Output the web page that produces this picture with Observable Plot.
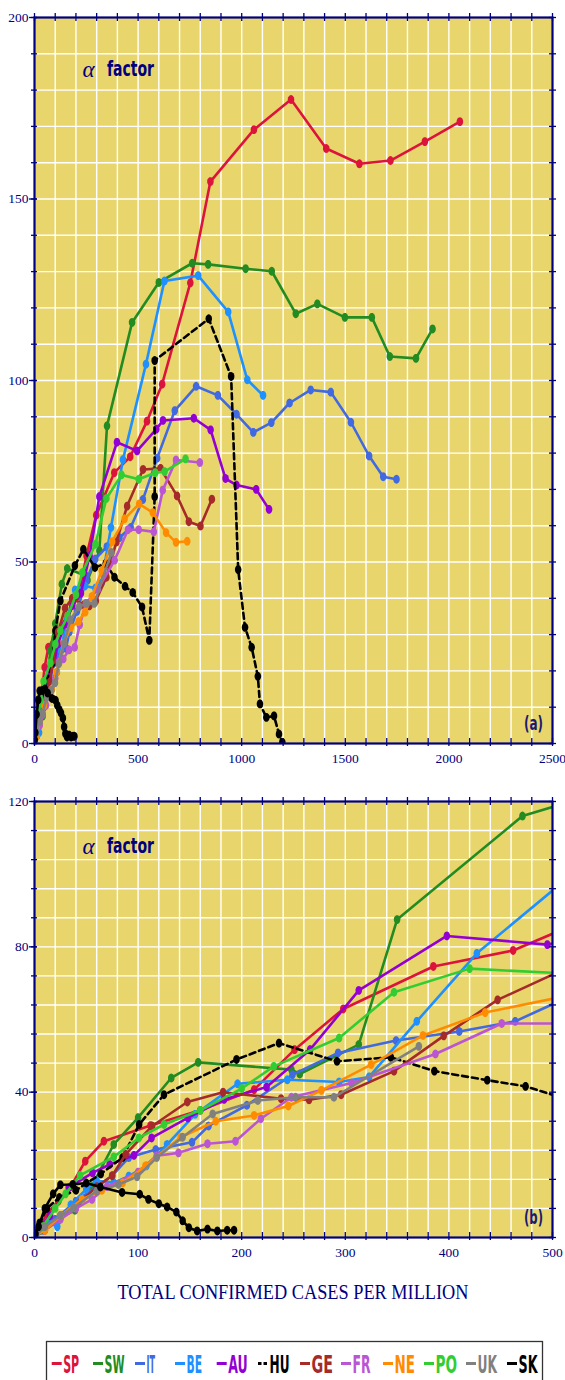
<!DOCTYPE html>
<html><head><meta charset="utf-8">
<script src="https://cdn.jsdelivr.net/npm/d3@7"></script>
<script src="https://cdn.jsdelivr.net/npm/@observablehq/plot@0.6"></script>
<style>
html,body{margin:0;padding:0;background:#fff;}
#wrap{width:565px;}
svg{display:block;}
</style></head><body>
<div id="wrap"><div id="top"></div><div id="bottom"></div><div id="foot"></div></div>
<script>
// ---- data (x: total confirmed cases per million, y: alpha factor) ----
const countries = ["SP","SW","IT","BE","AU","HU","GE","FR","NE","PO","UK","SK"];
const colors = ["#dc143c","#228b22","#4169e1","#1e90ff","#9400d3","#000000","#a52a2a","#ba55d3","#ff8c00","#32cd32","#808080","#000000"];

const SP = [[1,1],[5,3],[12,6.5],[23,10],[35,14],[49,21],[67,26.5],[112,30.8],[160,35],[212,40.7],[251,51.7],[298,62.9],[385,74.6],[462,79],[543,88.8],[616,99],[752,126.9],[849,154.8],[1059,169.1],[1238,177.4],[1408,163.9],[1568,159.7],[1718,160.6],[1884,165.8],[2053,171.3]];
const SW = [[1,0.5],[6,2],[15,4],[25,5.5],[39,7.5],[55,14],[76.5,25.6],[100,33],[132,43.9],[158,48.2],[248,46.2],[256,45],[313,53.1],[350,87.5],[471,116],[600,127],[761,132.3],[838,132],[1019,130.8],[1145,130.1],[1261,118.4],[1365,121.1],[1498,117.4],[1628,117.4],[1715,106.6],[1841,106.1],[1921,114.2]];
const IT = [[1,0.5],[8,2],[20,5],[40,10],[60,14],[75,17],[91,22],[117,24.2],[152,26.2],[168,30.7],[205,36.4],[249,44.8],[293,50.8],[349,54.2],[410,56.7],[464,59.5],[523,67.2],[592,78.6],[677,91.7],[780,98.4],[885,95.9],[975,90.7],[1056,85.7],[1143,88.4],[1231,93.8],[1333,97.4],[1430,96.8],[1527,88.5],[1615,79.2],[1683,73.5],[1747,72.8]];
const BE = [[2,1],[6,2.5],[15,4],[22,3],[35,9],[50,13.3],[60,15.6],[76.5,15.1],[91,16.9],[108,19.7],[128,25.6],[155,33.9],[196,42.3],[244,43.4],[294,42.8],[323,44.2],[369,59.5],[427,78.2],[538,104.5],[627,127.4],[790,128.9],[935,118.9],[1027,100.2],[1103,95.9]];
const AU = [[1,0.5],[3,2],[15,6],[33,13.7],[56,17.8],[72.6,20.1],[96,22.6],[113,27.4],[148,32.9],[183,38],[224,41.4],[266,51.7],[313,68],[398,83],[495,80.6],[588,86.6],[620,89],[769,89.6],[850,86.4],[922,73],[975,71.2],[1070,70],[1132,64.5]];
const HU = [[1,1],[5,4],[12,8],[24,11],[40,13],[64,17.5],[85,22],[101,31.1],[125,39.3],[195,49],[236,53.5],[292,48.5],[344,49.6],[386,45.8],[437,43.3],[474,41.6],[519,37.6],[554,28.4],[580,68],[580,105.5],[841,117],[949,101.1],[983,47.9],[1016,32],[1048,26.5],[1078,18.5],[1088,10.9],[1119,7.2],[1156,7.6],[1180,2.6],[1196,0.3]];
const GE = [[1,0.5],[10,2],[25,6],[45,10],[60,14],[75,17],[88,22.9],[113.6,30.7],[147.5,37.3],[182,40],[238,38.2],[265,37.9],[296,39.3],[347,45.8],[395,55.5],[447,65.4],[524,75.5],[608,75.8],[688,68.2],[745,61.1],[801,59.9],[856,67.3]];
const FR = [[1,0.5],[10,2],[25,5],[40,8],[55.5,10.5],[70,14],[100,18],[118,22.5],[139,23.3],[167,25.8],[194,26.5],[218.5,32.7],[248,38.6],[306,42.5],[387,50.5],[451,58.9],[503,58.9],[576,58.3],[619,69.8],[683,78.1],[798,77.4]];
const NE = [[1,0.5],[10,2],[25,6],[45.8,10.5],[65,13],[85,15],[107,19.7],[141,27.6],[175,32],[212,33.6],[245,36.2],[277,40.5],[325,47.6],[375,55.6],[435,61.9],[505,66],[571,63.6],[635,58.1],[683,55.4],[737,55.7]];
const PO = [[1,0.5],[8,3],[20,8],[30,12],[44,17.1],[76.5,22.2],[100.7,27.4],[125,31.1],[160,35],[200,41],[231,47.1],[294,54.9],[347,67.5],[420,74],[503,72.8],[583,74.6],[628,74.9],[729,78.4]];
const UK = [[1,0.5],[10,3],[25,6],[37.8,8.2],[60,12.8],[81,14.6],[99,16.7],[118,22],[143,27.6],[172,34],[215.5,37.7],[252,38.6],[289,38.6],[371,52.6]];
const SK = [[1,1],[4,3],[10,8],[18,12],[25,14.5],[37,14.6],[50,15],[63.6,13.9],[84.5,12.4],[101.6,11.9],[110,10.5],[120,9.3],[128,8.4],[137,7],[143,4.6],[149,2.7],[157,1.8],[167,2.3],[176.5,1.8],[186,2],[192.6,2]];

const xLabelsA = [0,500,1000,1500,2000,2500];
const yLabelsA = [0,50,100,150,200];
const xLabelsB = [0,100,200,300,400,500];
const yLabelsB = [0,40,80,120];
const legendLabels = countries;

// ---- build ----
const seriesList = [SP,SW,IT,BE,AU,HU,GE,FR,NE,PO,UK,SK];
const rows = countries.flatMap((c,i)=>seriesList[i].map(([x,y])=>({c,x,y})));

const NAVY = "#000080";
const BG = "#e8d66c";
const ellipse = {draw(ctx,size){const r=Math.sqrt(size/Math.PI);const rx=r*0.88,ry=r*1.2;for(let i=0;i<24;i++){const a=i/24*2*Math.PI;const x=rx*Math.cos(a),y=ry*Math.sin(a);if(i)ctx.lineTo(x,y);else ctx.moveTo(x,y);}ctx.closePath();}};

function panel({xMax,yMax,xStep,yStep,xLabels,yLabels,height,marginTop,tag,labelDy}){
  const marginLeft=34, marginRight=13, marginBottom=27;
  const W=565-marginLeft-marginRight, H=height-marginTop-marginBottom;
  const xGrid=d3.range(xStep,xMax,xStep), yGrid=d3.range(yStep,yMax,yStep);
  const xT=d3.range(0,xMax+1e-9,xStep), yT=d3.range(0,yMax+1e-9,yStep);
  const marks=[
    Plot.frame({fill:BG,stroke:null}),
    Plot.ruleX(xGrid,{stroke:"#ffffff",strokeWidth:1.4}),
    Plot.ruleY(yGrid,{stroke:"#ffffff",strokeWidth:1.4}),
  ];
  countries.forEach((c,i)=>{
    const d=rows.filter(r=>r.c===c);
    marks.push(Plot.line(d,{x:"x",y:"y",stroke:colors[i],strokeWidth:2.6,strokeDasharray:c==="HU"?"6,4":null,clip:true}));
    marks.push(Plot.dot(d,{x:"x",y:"y",fill:colors[i],r:3.7,symbol:ellipse,clip:true}));
  });
  marks.push(
    Plot.frame({stroke:NAVY,strokeWidth:2.2}),
    Plot.ruleY(yT,{stroke:NAVY,strokeWidth:1.3,insetLeft:-3,insetRight:W-3}),
    Plot.ruleY(yLabels,{stroke:NAVY,strokeWidth:1.3,insetLeft:-5,insetRight:W-3}),
    Plot.ruleY(yT,{stroke:NAVY,strokeWidth:1.3,insetLeft:W-3,insetRight:-4}),
    Plot.ruleX(xT,{stroke:NAVY,strokeWidth:1.3,insetTop:-4,insetBottom:H-4}),
    Plot.ruleX(xT,{stroke:NAVY,strokeWidth:1.3,insetTop:H-5,insetBottom:-3}),
    Plot.text(["α"],{frameAnchor:"top-left",dx:48,dy:labelDy+1,textAnchor:"start",lineAnchor:"middle",fill:NAVY,fontSize:23,fontStyle:"italic",fontFamily:"Liberation Serif"}),
    Plot.text(["factor"],{frameAnchor:"top-left",dx:72.5,dy:labelDy,textAnchor:"start",lineAnchor:"middle",fill:NAVY,fontSize:22,fontWeight:"bold",fontFamily:"DejaVu Sans"}),
    Plot.text([tag],{frameAnchor:"bottom-right",dx:-9.5,dy:-20,textAnchor:"end",lineAnchor:"middle",fill:"#1a1a70",fontSize:20,fontWeight:"bold",fontFamily:"DejaVu Sans"})
  );
  const svg=Plot.plot({
    width:565,height,marginLeft,marginRight,marginTop,marginBottom,
    style:{fontFamily:"Liberation Serif",fontSize:"13.5px",color:NAVY,background:"#fff"},
    x:{domain:[0,xMax],ticks:xLabels,tickSize:0,tickPadding:10,label:null,tickFormat:d=>String(d)},
    y:{domain:[0,yMax],ticks:yLabels,tickSize:0,tickPadding:6,label:null,tickFormat:d=>String(d)},
    marks
  });
  d3.select(svg).selectAll("text").each(function(){
    const t=this.textContent;
    if(t==="factor") d3.select(this).attr("textLength",47).attr("lengthAdjust","spacingAndGlyphs");
    if(t===tag) d3.select(this).attr("textLength",19).attr("lengthAdjust","spacingAndGlyphs");
  });
  return svg;
}

document.getElementById("top").appendChild(panel({xMax:2500,yMax:200,xStep:100,yStep:10,xLabels:xLabelsA,yLabels:yLabelsA,height:770,marginTop:17,tag:"(a)",labelDy:51}));
document.getElementById("bottom").appendChild(panel({xMax:500,yMax:120,xStep:20,yStep:8,xLabels:xLabelsB,yLabels:yLabelsB,height:494,marginTop:31,tag:"(b)",labelDy:44}));

// ---- footer: axis title + legend ----
const legendX=[51.7,93,135,175,216.7,258,300,341,383,424,466,507];
const legendW=[16,20,8.5,15.5,19.5,20,21.5,18,20.5,21.5,19.5,19];
const NS="http://www.w3.org/2000/svg";
const foot=d3.select("#foot").append("svg").attr("width",565).attr("height",116);
foot.append("text").attr("x",293).attr("y",35).attr("text-anchor","start")
  .attr("font-family","Liberation Serif").attr("font-size",22).attr("fill",NAVY)
  .attr("textLength",351).attr("lengthAdjust","spacingAndGlyphs")
  .attr("transform","translate(-175.5,0)")
  .text("TOTAL CONFIRMED CASES PER MILLION");
foot.append("rect").attr("x",46.5).attr("y",77.5).attr("width",496).attr("height",60)
  .attr("fill","none").attr("stroke","#333").attr("stroke-width",1.3);
legendLabels.forEach((c,i)=>{
  const x=legendX[i];
  if(c==="HU"){
    foot.append("rect").attr("x",x).attr("y",98).attr("width",3.5).attr("height",3).attr("fill",colors[i]);
    foot.append("rect").attr("x",x+5.5).attr("y",98).attr("width",3.5).attr("height",3).attr("fill",colors[i]);
  } else {
    foot.append("rect").attr("x",x).attr("y",98).attr("width",10).attr("height",3).attr("fill",colors[i]);
  }
  foot.append("text").attr("x",x+11.5).attr("y",108.7).attr("font-family","DejaVu Sans").attr("font-weight","bold")
    .attr("font-size",24).attr("fill",colors[i]).attr("textLength",legendW[i]).attr("lengthAdjust","spacingAndGlyphs").text(c);
});
</script>
</body></html>
